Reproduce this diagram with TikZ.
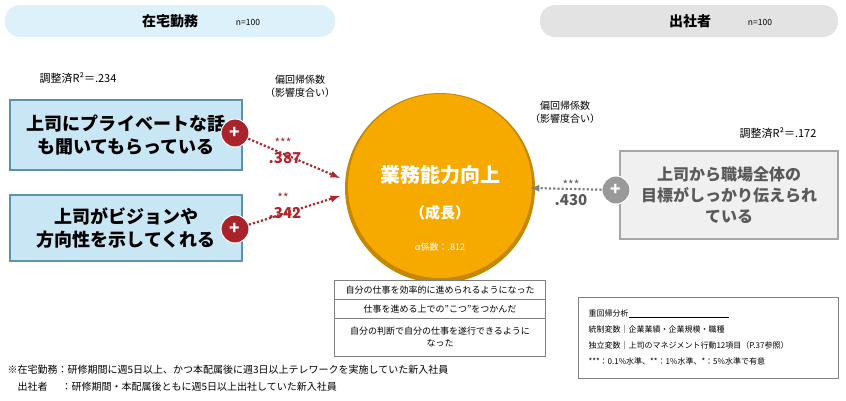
\documentclass[tikz,border=0pt]{standalone}
\usepackage{fontspec}
\setmainfont{Noto Sans CJK JP}
\usetikzlibrary{positioning, calc}
\definecolor{pillblue}{HTML}{DDF1FB}
\definecolor{pillgray}{HTML}{E3E3E3}
\definecolor{boxblue}{HTML}{C9E6F5}
\definecolor{boxline}{HTML}{5B93AA}
\definecolor{plusred}{HTML}{A8232B}
\definecolor{numred}{HTML}{B0262E}
\definecolor{orng}{HTML}{F6AA00}
\definecolor{graytxt}{HTML}{595959}
\tikzset{
  factor/.style={draw=boxline, line width=2.5pt, fill=boxblue, align=center,
                 font=\bfseries\fontsize{18}{23}\selectfont},
  plus/.style={circle, draw=white, line width=1pt, fill=plusred, text=white,
               minimum size=28pt, inner sep=0pt, font=\bfseries\LARGE},
  coef/.style={font=\bfseries\fontsize{15}{16}\selectfont, text=numred},
  stars/.style={font=\fontsize{12}{12}\selectfont, text=numred},
  small/.style={font=\fontsize{10}{13}\selectfont, align=center},
  effect/.style={dotted, line width=2.2pt, -latex, color=numred}
}
\begin{document}
\begin{tikzpicture}[x=1pt, y=-1pt]
\useasboundingbox (0,0) rectangle (846,400);
% headers
\fill[pillblue, rounded corners=15pt] (5,5) rectangle (335,37);
\node[font=\bfseries\fontsize{14}{16}\selectfont] (hl) at (170,21) {在宅勤務};
\node[font=\fontsize{8.5}{9}\selectfont] (hln) at (248,22) {n=100};
\fill[pillgray, rounded corners=15pt] (540,5) rectangle (838,37);
\node[font=\bfseries\fontsize{14}{16}\selectfont] (hr) at (690,21) {出社者};
\node[font=\fontsize{8.5}{9}\selectfont] (hrn) at (760,22) {n=100};

% left side
\node[font=\fontsize{11}{12}\selectfont] (r2l) at (78,78) {調整済R²＝.234};
\node[factor, minimum width=232pt, minimum height=70pt] (f1) at (126,135) {上司にプライベートな話\\も聞いてもらっている};
\node[factor, minimum width=232pt, minimum height=66pt] (f2) at (126,228) {上司がビジョンや\\方向性を示してくれる};
\node[plus] (p1) at (235,133) {+};
\node[plus] (p2) at (235,229) {+};
\node[small] (kl) at (300,86) {偏回帰係数\\（影響度合い）};

% target
\fill[orng!80!black] (440,188) circle (95pt);
\fill[orng] (440,186) circle (92pt);
\node[circle, minimum size=190pt] (goal) at (440,188) {};
\node[text=white, font=\bfseries\fontsize{20}{22}\selectfont] (g1) at (440,175) {業務能力向上};
\node[text=white, font=\bfseries\fontsize{15}{16}\selectfont] (g2) at (440,213) {（成長）};
\node[text=white, font=\fontsize{9}{10}\selectfont] (g3) at (440,247) {α係数：.812};

\coordinate (t1) at (340,178);
\coordinate (t2) at (340,196);
\draw[effect] (p1) -- (t1);
\draw[effect] (p2) -- (t2);
\node[stars] (s1) at (283,143) {***};
\node[coef] (c1) at (285,158) {.387};
\node[stars] (s2) at (283,198) {**};
\node[coef] (c2) at (285,213) {.342};

% items
\draw[gray, fill=white] (334,280) rectangle (545,356);
\draw[gray] (334,299) -- (545,299) (334,318) -- (545,318);
\node[font=\fontsize{9}{12}\selectfont, align=center] (i1) at (440,290) {自分の仕事を効率的に進められるようになった};
\node[font=\fontsize{9}{12}\selectfont, align=center] (i2) at (440,309) {仕事を進める上での”こつ”をつかんだ};
\node[font=\fontsize{9}{12}\selectfont, align=center] (i3) at (440,337) {自分の判断で自分の仕事を遂行できるように\\なった};

% right side
\node[small] (kr) at (565,112) {偏回帰係数\\（影響度合い）};
\node[font=\fontsize{11}{12}\selectfont] (r2r) at (778,133) {調整済R²＝.172};
\node[draw=gray!70, line width=1.5pt, fill=gray!12, minimum width=218pt, minimum height=88pt,
      align=center, text=graytxt, font=\bfseries\fontsize{16}{21}\selectfont] (f3) at (729,195)
      {上司から職場全体の\\目標がしっかり伝えられ\\ている};
\node[plus, fill=gray!80] (p3) at (616,190) {+};
\coordinate (t3) at (530,188);
\draw[effect, color=gray] (p3) -- (t3);
\node[stars, text=graytxt] (s3) at (571,185) {***};
\node[coef, text=graytxt] (c3) at (571,200) {.430};

% note box
\draw[gray] (578,297) rectangle (838,378);
\node[anchor=west, font=\fontsize{8}{16}\selectfont, align=left] (nb) at (585,337)
  {重回帰分析\rule[-1pt]{100pt}{0.3pt}\\統制変数｜企業業績・企業規模・職種\\独立変数｜上司のマネジメント行動12項目（P.37参照）\\***：0.1\%水準、**：1\%水準、*：5\%水準で有意};

% footnote
\node[anchor=west, font=\fontsize{10}{11}\selectfont] (fn1) at (4,370) {※在宅勤務：研修期間に週5日以上、かつ本配属後に週3日以上テレワークを実施していた新入社員};
\node[anchor=west, font=\fontsize{10}{11}\selectfont] (fn2) at (4,387) {\hspace{1em}出社者\hspace{1.4em}：研修期間・本配属後ともに週5日以上出社していた新入社員};
\end{tikzpicture}
\end{document}
